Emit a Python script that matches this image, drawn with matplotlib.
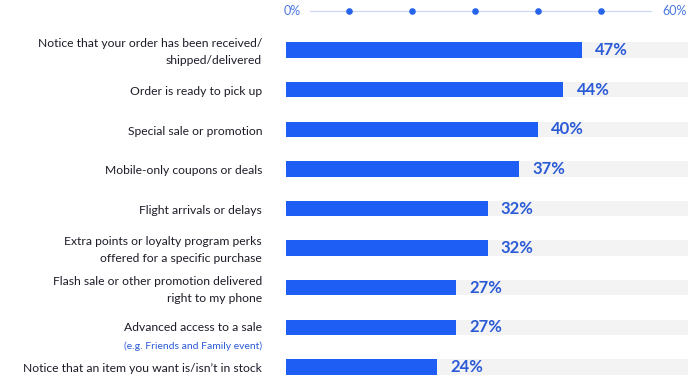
import matplotlib.pyplot as plt
import numpy as np

# Data
labels = [
    'Notice that your order has been received/\nshipped/delivered',
    'Order is ready to pick up',
    'Special sale or promotion',
    'Mobile-only coupons or deals',
    'Flight arrivals or delays',
    'Extra points or loyalty program perks\noffered for a specific purchase',
    'Flash sale or other promotion delivered\nright to my phone',
    'Advanced access to a sale',
    "Notice that an item you want is/isn\u2019t in stock",
]
sublabels = ['', '', '', '', '', '', '', '(e.g. Friends and Family event)', '']
values = [47, 44, 40, 37, 32, 32, 27, 27, 24]
ticks = [0, 10, 20, 30, 40, 50, 60]

bar_color = '#1f5ef5'
num_color = '#2a5ad6'
track_color = '#f3f3f3'
text_color = '#1c1c28'

plt.rcParams['font.family'] = ['Lato', 'DejaVu Sans']

fig = plt.figure(figsize=(6.9, 3.77), dpi=100)
ax = fig.add_axes([286 / 690, 0, 402 / 690, 1])

xmax = 63.8
ax.set_xlim(0, xmax)
ax.set_ylim(8.252, -1.262)

y = np.arange(len(values))
ax.barh(y, [xmax] * len(values), height=0.39, color=track_color, zorder=1)
ax.barh(y, values, height=0.39, color=bar_color, zorder=2)

for i, v in enumerate(values):
    ax.text(v + 2.1, i, f'{v}%', ha='left', va='center', fontsize=12,
            fontweight='bold', color=num_color, zorder=3)

# Category labels
xt = -24 / 402
for i, (lab, sub) in enumerate(zip(labels, sublabels)):
    if sub:
        ax.text(xt, i, lab, transform=ax.get_yaxis_transform(), ha='right',
                va='center', fontsize=8.7, color=text_color, clip_on=False)
        ax.text(xt, i + 0.48, sub, transform=ax.get_yaxis_transform(), ha='right',
                va='center', fontsize=7.5, color=num_color, clip_on=False)
    else:
        ax.text(xt, i + 0.05, lab, transform=ax.get_yaxis_transform(), ha='right',
                va='center', fontsize=8.7, color=text_color, clip_on=False,
                linespacing=1.7)

# Decorative top axis
ytop = -0.984
ax.plot([3.8, 58.0], [ytop, ytop], color='#cdd8f7', lw=0.9, zorder=1, clip_on=False)
ax.scatter(ticks[1:-1], [ytop] * (len(ticks) - 2), s=14, color='#2563eb', zorder=2,
           clip_on=False)
ax.text(ticks[0] - 0.4, ytop, f'{ticks[0]}%', ha='left', va='center', fontsize=9,
        color='#4a78e0')
ax.text(ticks[-1] - 0.2, ytop, f'{ticks[-1]}%', ha='left', va='center', fontsize=9,
        color='#4a78e0')

ax.axis('off')

plt.savefig('out.png', dpi=100)
plt.close()
